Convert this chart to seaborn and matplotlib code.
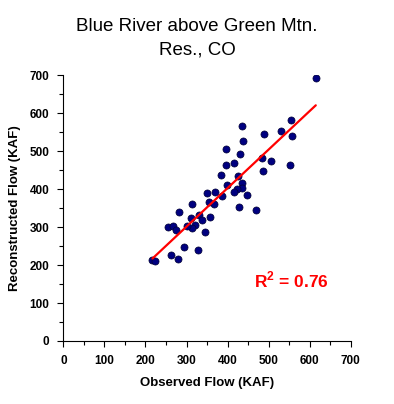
# -*- coding: utf-8 -*-
import numpy as np
import pandas as pd
import seaborn as sns
import matplotlib
matplotlib.use('Agg')
from matplotlib import pyplot as plt
from matplotlib.ticker import MultipleLocator

# observed vs reconstructed annual flow (KAF)
observed = [615, 555, 434, 489, 531, 558, 438, 396, 430, 484,
            507, 396, 416, 551, 486, 383, 426, 436, 399, 435,
            422, 351, 370, 416, 448, 386, 313, 355, 366, 429,
            469, 282, 310, 330, 338, 358, 321, 314, 345, 328,
            254, 267, 275, 301, 295, 217, 222, 262, 280]
reconstructed = [692, 581, 567, 546, 553, 540, 526, 505, 493, 483,
                 475, 463, 469, 463, 447, 436, 434, 415, 411, 403,
                 400, 390, 392, 391, 385, 383, 362, 365, 361, 352,
                 346, 339, 325, 331, 318, 327, 306, 297, 286, 240,
                 300, 302, 292, 302, 248, 214, 211, 226, 216]
r2_label = 'R$^\\mathbf{2}$ = 0.76'
title = 'Blue River above Green Mtn.\nRes., CO'

df = pd.DataFrame({'Observed': observed, 'Reconstructed': reconstructed})

sns.set_style('ticks')
plt.rcParams['font.family'] = ['Liberation Sans', 'DejaVu Sans']
plt.rcParams['mathtext.fontset'] = 'custom'
plt.rcParams['mathtext.rm'] = 'Liberation Sans'
plt.rcParams['mathtext.bf'] = 'Liberation Sans:bold'
# plain black text everywhere, like the original
for key in ['text.color', 'axes.labelcolor', 'xtick.color', 'ytick.color']:
    plt.rcParams[key] = 'black'

fig = plt.figure(figsize=(3.94, 4.04), dpi=100)
ax = fig.add_axes([0.161, 0.156, 0.729, 0.658])

sns.regplot(data=df, x='Observed', y='Reconstructed', ci=None, ax=ax,
            scatter_kws=dict(s=26, color='#000080', edgecolor='#000033',
                             linewidths=0.5, alpha=1, zorder=3),
            line_kws=dict(color='red', lw=1.6, zorder=4))

ax.set_xlim(0, 700)
ax.set_ylim(0, 700)
ax.xaxis.set_major_locator(MultipleLocator(100))
ax.yaxis.set_major_locator(MultipleLocator(100))
ax.xaxis.set_minor_locator(MultipleLocator(50))
ax.yaxis.set_minor_locator(MultipleLocator(50))
ax.tick_params(which='major', direction='out', length=4, width=0.8,
               labelsize=8.5, pad=6, color='black', labelcolor='black')
ax.tick_params(which='minor', direction='out', length=3, width=0.8, color='black')
for lbl in ax.get_xticklabels() + ax.get_yticklabels():
    lbl.set_fontweight('bold')
sns.despine(ax=ax)
for sp in ['left', 'bottom']:
    ax.spines[sp].set_color('black')
    ax.spines[sp].set_linewidth(0.8)

ax.set_xlabel('Observed Flow (KAF)', fontsize=9.5, fontweight='bold', labelpad=7)
ax.set_ylabel('Reconstructed Flow (KAF)', fontsize=9.5, fontweight='bold', labelpad=6)
fig.text(0.5, 0.905, title, ha='center', va='center', fontsize=13.5,
         linespacing=1.45, color='black')
ax.text(0.664, 0.229, r2_label, transform=ax.transAxes, color='red',
        fontsize=12.5, fontweight='bold', ha='left', va='center')

fig.savefig('out.png', dpi=100)
